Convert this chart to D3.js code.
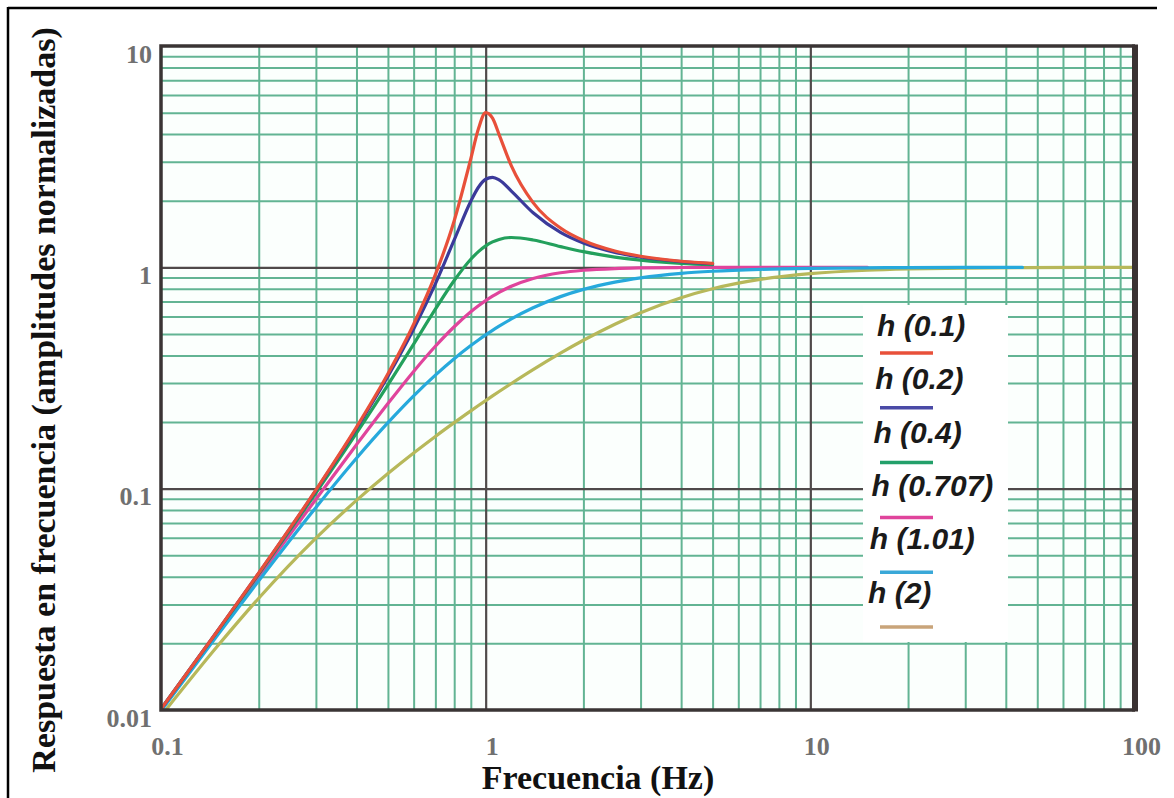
<!DOCTYPE html>
<html>
<head>
<meta charset="utf-8">
<script src="https://cdn.jsdelivr.net/npm/d3@7"></script>
<style>
  html, body { margin: 0; padding: 0; background: #ffffff; }
  svg { display: block; }
</style>
</head>
<body>
<svg id="chart" width="1174" height="798"></svg>
<script>
// Frequencies (Hz) at which the response curves are sampled
const freqHz = [0.1, 0.15, 0.2, 0.3, 0.4, 0.5, 0.6, 0.7, 0.8, 0.9, 0.95, 1.0, 1.05, 1.1, 1.2, 1.4, 1.7, 2, 2.5, 3, 4, 5, 7, 10, 15, 20, 30, 45, 70, 100];

// Normalised amplitude response for each damping value h
const resp_h01   = [0.0101, 0.0230, 0.0416, 0.0987, 0.1896, 0.3304, 0.5529, 0.9265, 1.624, 3.095, 4.226, 5.0, 4.718, 3.979, 2.873, 1.960, 1.505, 1.322, 1.185, 1.122, 1.065, 1.041];
const resp_h02   = [0.0101, 0.0230, 0.0415, 0.0981, 0.1871, 0.3221, 0.5267, 0.8422, 1.329, 1.990, 2.301, 2.5, 2.550, 2.482, 2.211, 1.764, 1.439, 1.288, 1.169, 1.113, 1.061, 1.038];
const resp_h04   = [0.0101, 0.0229, 0.0411, 0.0956, 0.1780, 0.2941, 0.4500, 0.6469, 0.8716, 1.088, 1.178, 1.25, 1.303, 1.337, 1.364, 1.329, 1.241, 1.177, 1.113, 1.078, 1.043, 1.028];
const resp_h0707 = [0.0100, 0.0225, 0.0400, 0.0896, 0.1580, 0.2425, 0.3387, 0.4400, 0.5390, 0.6294, 0.6701, 0.7072, 0.7408, 0.7708, 0.8214, 0.8908, 0.9450, 0.9701, 0.9874, 0.9939, 0.9981, 0.9992, 0.9998, 1.0, 1.0];
const resp_h101  = [0.0099, 0.0220, 0.0384, 0.0823, 0.1373, 0.1987, 0.2627, 0.3260, 0.3866, 0.4431, 0.4697, 0.4950, 0.5192, 0.5421, 0.5845, 0.6563, 0.7373, 0.7949, 0.8580, 0.8968, 0.9391, 0.9601, 0.9792, 0.9897, 0.9954, 0.9974, 0.9988, 0.9995];
const resp_h2    = [0.0094, 0.0196, 0.0320, 0.0598, 0.0885, 0.1170, 0.1449, 0.1722, 0.1987, 0.2247, 0.2374, 0.2500, 0.2624, 0.2747, 0.2987, 0.3450, 0.4095, 0.4682, 0.5534, 0.6240, 0.7295, 0.8002, 0.8818, 0.9365, 0.9703, 0.9829, 0.9923, 0.9966, 0.9986, 0.9993];

const seriesNames = ["h (0.1)", "h (0.2)", "h (0.4)", "h (0.707)", "h (1.01)", "h (2)"];
const seriesValues = [resp_h01, resp_h02, resp_h04, resp_h0707, resp_h101, resp_h2];

// Axis ticks
const xTickValues = [0.1, 1, 10, 100];
const xTickLabels = ["0.1", "1", "10", "100"];
const yTickValues = [0.01, 0.1, 1, 10];
const yTickLabels = ["0.01", "0.1", "1", "10"];

const xTitle = "Frecuencia (Hz)";
const yTitle = "Respuesta en frecuencia (amplitudes normalizadas)";

// Styles
const curveColors  = ["#e8503a", "#3b3a9a", "#23a05c", "#e0449c", "#26a9dc", "#b7b85a"];
const legendColors = ["#e8503a", "#4a4aa6", "#23a06a", "#e0449c", "#3aa8d8", "#c9a47a"];
const drawOrder = [5, 3, 4, 2, 1, 0];

const svg = d3.select("#chart");
const plot = { left: 161, right: 1135, top: 46, bottom: 710 };

const x = d3.scaleLog().domain([0.1, 100]).range([plot.left, plot.right]);
const y = d3.scaleLog().domain([0.01, 10]).range([plot.bottom, plot.top]);

// Outer frame lines
svg.append("line").attr("x1", 8).attr("y1", 8).attr("x2", 1157).attr("y2", 8)
  .attr("stroke", "#000").attr("stroke-width", 2.5);
svg.append("line").attr("x1", 8).attr("y1", 7).attr("x2", 8).attr("y2", 798)
  .attr("stroke", "#000").attr("stroke-width", 2.5);

// Plot background
svg.append("rect")
  .attr("x", plot.left).attr("y", plot.top)
  .attr("width", plot.right - plot.left).attr("height", plot.bottom - plot.top)
  .attr("fill", "#fbfffd");

// Minor grid positions: 2..9 within each decade
const minorX = [];
[0.1, 1, 10].forEach(d => { for (let m = 2; m <= 9; m++) minorX.push(+(m * d).toPrecision(3)); });
const minorY = [];
[0.01, 0.1, 1].forEach(d => { for (let m = 2; m <= 9; m++) minorY.push(+(m * d).toPrecision(3)); });

const grid = svg.append("g");
const gridGreen = "#62b493";
const gridMajor = "#4f4a4a";

grid.append("g")
  .attr("transform", `translate(0,${plot.bottom})`)
  .call(d3.axisBottom(x).tickValues(minorX).tickSize(-(plot.bottom - plot.top)).tickFormat(""))
  .call(g => g.select(".domain").remove())
  .call(g => g.selectAll("line").attr("stroke", gridGreen).attr("stroke-width", 2));

grid.append("g")
  .attr("transform", `translate(${plot.left},0)`)
  .call(d3.axisLeft(y).tickValues(minorY).tickSize(-(plot.right - plot.left)).tickFormat(""))
  .call(g => g.select(".domain").remove())
  .call(g => g.selectAll("line").attr("stroke", gridGreen).attr("stroke-width", 2));

grid.append("g")
  .attr("transform", `translate(0,${plot.bottom})`)
  .call(d3.axisBottom(x).tickValues([1, 10]).tickSize(-(plot.bottom - plot.top)).tickFormat(""))
  .call(g => g.select(".domain").remove())
  .call(g => g.selectAll("line").attr("stroke", gridMajor).attr("stroke-width", 2.2));

grid.append("g")
  .attr("transform", `translate(${plot.left},0)`)
  .call(d3.axisLeft(y).tickValues([0.1, 1]).tickSize(-(plot.right - plot.left)).tickFormat(""))
  .call(g => g.select(".domain").remove())
  .call(g => g.selectAll("line").attr("stroke", gridMajor).attr("stroke-width", 2.2));

// Legend panel covers the grid behind it
const legend = { x0: 863, x1: 1008, y0: 305, y1: 642 };
svg.append("rect")
  .attr("x", legend.x0).attr("y", legend.y0)
  .attr("width", legend.x1 - legend.x0).attr("height", legend.y1 - legend.y0)
  .attr("fill", "#ffffff");

// Curves
svg.append("defs").append("clipPath").attr("id", "plotClip")
  .append("rect")
  .attr("x", plot.left).attr("y", plot.top)
  .attr("width", plot.right - plot.left).attr("height", plot.bottom - plot.top);

const line = d3.line()
  .x(d => x(d[0]))
  .y(d => y(d[1]))
  .curve(d3.curveMonotoneX);

const curves = svg.append("g").attr("clip-path", "url(#plotClip)");
drawOrder.forEach(i => {
  const pts = seriesValues[i].map((v, k) => [freqHz[k], v]);
  curves.append("path")
    .datum(pts)
    .attr("d", line)
    .attr("fill", "none")
    .attr("stroke", curveColors[i])
    .attr("stroke-width", 3.2)
    .attr("stroke-linejoin", "round")
    .attr("stroke-linecap", "round");
});

// Plot frame
const frame = svg.append("g").attr("fill", "none");
frame.append("path")
  .attr("d", `M${plot.right},${plot.top} L${plot.left},${plot.top} L${plot.left},${plot.bottom} L${plot.right},${plot.bottom}`)
  .attr("stroke", "#3a3434").attr("stroke-width", 3.5);
frame.append("line")
  .attr("x1", plot.right).attr("y1", plot.top - 1.5)
  .attr("x2", plot.right).attr("y2", plot.bottom + 1.5)
  .attr("stroke", "#3a3232").attr("stroke-width", 6);

// Legend entries
const legendG = svg.append("g");
seriesNames.forEach((name, i) => {
  legendG.append("text")
    .attr("x", 877 - i * 1.8)
    .attr("y", 336 + i * 53.3)
    .attr("font-family", "'Liberation Sans', Arial, sans-serif")
    .attr("font-weight", "bold")
    .attr("font-style", "italic")
    .attr("font-size", 30)
    .attr("fill", "#1a1a1a")
    .text(name);
  legendG.append("line")
    .attr("x1", 880).attr("x2", 933)
    .attr("y1", 353 + i * 54.8).attr("y2", 353 + i * 54.8)
    .attr("stroke", legendColors[i])
    .attr("stroke-width", 3.5);
});

// Tick labels
const tickFont = "'Liberation Serif', 'Times New Roman', serif";
svg.append("g")
  .attr("transform", `translate(0,${plot.bottom})`)
  .call(d3.axisBottom(x).tickValues(xTickValues).tickFormat((d, i) => xTickLabels[i]).tickSize(0).tickPadding(0))
  .call(g => g.select(".domain").remove())
  .call(g => g.selectAll("text")
    .attr("dy", null).attr("y", 45).attr("dx", 6)
    .attr("font-family", tickFont).attr("font-weight", "bold")
    .attr("font-size", 26).attr("fill", "#707070"));

svg.append("g")
  .attr("transform", `translate(${plot.left},0)`)
  .call(d3.axisLeft(y).tickValues(yTickValues).tickFormat((d, i) => yTickLabels[i]).tickSize(0).tickPadding(0))
  .call(g => g.select(".domain").remove())
  .call(g => g.selectAll("text")
    .attr("dy", null).attr("y", 16).attr("x", -9)
    .attr("font-family", tickFont).attr("font-weight", "bold")
    .attr("font-size", 26).attr("fill", "#707070"));

// Axis titles
svg.append("text")
  .attr("x", 598).attr("y", 789)
  .attr("text-anchor", "middle")
  .attr("font-family", tickFont).attr("font-weight", "bold")
  .attr("font-size", 34).attr("fill", "#111")
  .text(xTitle);

svg.append("text")
  .attr("transform", "translate(55,400) rotate(-90)")
  .attr("text-anchor", "middle")
  .attr("font-family", tickFont).attr("font-weight", "bold")
  .attr("font-size", 34).attr("fill", "#111")
  .text(yTitle);
</script>
</body>
</html>
